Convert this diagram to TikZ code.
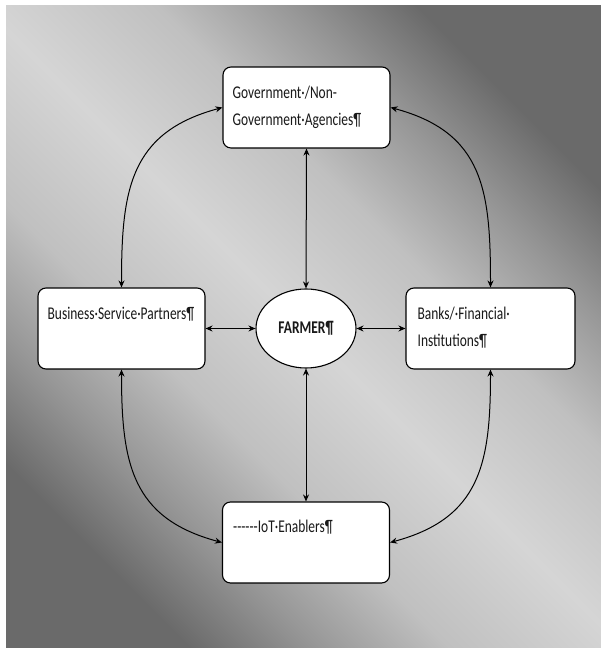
\documentclass[tikz,border=0pt]{standalone}
\usepackage{fontspec}
\usetikzlibrary{shapes.geometric, arrows.meta}
\newfontfamily\boxfont[FakeStretch=0.75,Ligatures=TeXOff]{Carlito}
\definecolor{nen0}{HTML}{6A6A6A}
\definecolor{nen1}{HTML}{959595}
\definecolor{nen2}{HTML}{C0C0C0}
\definecolor{nen3}{HTML}{D5D5D5}
\pgfdeclarehorizontalshading{nenxam}{100bp}{color(0bp)=(nen0); color(25bp)=(nen0); color(32bp)=(nen1); color(40bp)=(nen2); color(50bp)=(nen3); color(60bp)=(nen2); color(68bp)=(nen1); color(75bp)=(nen0); color(100bp)=(nen0)}
\tikzset{
	khung/.style={draw, fill=white, rounded corners=8bp, line width=1.1bp, minimum width=167bp, minimum height=81bp, inner sep=0},
	chu/.style={anchor=base west, inner sep=0, align=left, font=\boxfont\fontsize{18}{27}\selectfont, text=black!90},
	moc/.style={<->, line width=1bp},
}
\begin{document}
\begin{tikzpicture}[x=1bp, y=1bp, >={Stealth[length=7bp, width=6bp]}]
				\useasboundingbox (0,0) rectangle (601,648);
				\fill[white] (0,0) rectangle (601,648);
				% Nền xám chuyển màu
				\shade[shading=nenxam, shading angle=45] (6,0) rectangle (601,642);
				
				% Các khung
				\node[khung] (gov) at (306.5,540.5) {};
				\node[khung] (bsp) at (121.5,319.5) {};
				\node[khung, minimum width=169bp] (bank) at (490.5,319.5) {};
				\node[khung] (iot) at (306,105.5) {};
				\node[draw, fill=white, ellipse, line width=1.1bp, minimum width=100bp, minimum height=79bp, inner sep=0, font=\boxfont\bfseries\fontsize{18}{27}\selectfont, text=black!90] (farmer) at (306,319.5) {FARMER¶};
				
				% Chữ (nút nhiều dòng: base là dòng cuối)
				\node[chu] (govtxt) at ([xshift=10bp, yshift=-59bp]gov.north west) {Government·/Non-\\Government·Agencies¶};
				\node[chu] (bsptxt) at ([xshift=10bp, yshift=-32bp]bsp.north west) {Business·Service·Partners¶};
				\node[chu] (banktxt) at ([xshift=12bp, yshift=-59bp]bank.north west) {Banks/·Financial·\\Institutions¶};
				\node[chu] (iottxt) at ([xshift=11bp, yshift=-31bp]iot.north west) {------IoT·Enablers¶};
				
				% Mũi tên thẳng
				\draw[moc] (gov.south) -- (farmer.north);
				\draw[moc] (farmer.south) -- (iot.north);
				\draw[moc] (bsp.east) -- (farmer.west);
				\draw[moc] (farmer.east) -- (bank.west);
				
				% Mũi tên cong
				\draw[moc] (gov.west) to[out=195, in=90, looseness=1.2] (bsp.north);
				\draw[moc] (gov.east) to[out=-15, in=90, looseness=1.2] (bank.north);
				\draw[moc] (bsp.south) to[out=-90, in=165, looseness=1.2] (iot.west);
				\draw[moc] (bank.south) to[out=-90, in=15, looseness=1.2] (iot.east);
			\end{tikzpicture}
\end{document}
